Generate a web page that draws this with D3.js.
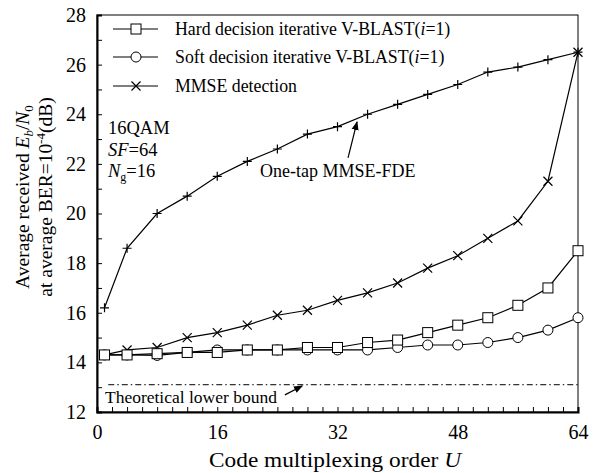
<!DOCTYPE html>
<html>
<head>
<meta charset="utf-8">
<script src="https://d3js.org/d3.v7.min.js"></script>
<style>
  body { margin: 0; background: #fff; }
  svg text { font-family: "Liberation Serif", "Times New Roman", Tinos, "DejaVu Serif", serif; fill: #000; }
</style>
</head>
<body>
<div id="chart"></div>
<script>
var width = 593,
  height = 473;

// code multiplexing order U
var orders = [1, 4, 8, 12, 16, 20, 24, 28, 32, 36, 40, 44, 48, 52, 56, 60, 64];
var hardVblast = [14.3, 14.3, 14.35, 14.4, 14.4, 14.5, 14.5, 14.6, 14.6, 14.8, 14.9, 15.2, 15.5, 15.8, 16.3, 17.0, 18.5];
var softVblast = [14.3, 14.3, 14.28, 14.4, 14.5, 14.5, 14.5, 14.5, 14.5, 14.5, 14.6, 14.7, 14.7, 14.8, 15.0, 15.3, 15.8];
var mmseDetection = [14.3, 14.5, 14.6, 15.0, 15.2, 15.5, 15.9, 16.1, 16.5, 16.8, 17.2, 17.8, 18.3, 19.0, 19.7, 21.3, 26.5];
var oneTapFde = [16.2, 18.6, 20.0, 20.7, 21.5, 22.1, 22.6, 23.2, 23.5, 24.0, 24.4, 24.8, 25.2, 25.7, 25.9, 26.2, 26.5];
var lowerBound = 13.1;

var xTicks = [0, 16, 32, 48, 64];
var yTicks = [12, 14, 16, 18, 20, 22, 24, 26, 28];

var serif = "'Liberation Serif', 'Times New Roman', Tinos, 'DejaVu Serif', serif";

var x = d3.scaleLinear().domain([0, 64]).range([97, 578]);
var y = d3.scaleLinear().domain([12, 28]).range([412, 15]);

var svg = d3.select("#chart").append("svg")
  .attr("width", width)
  .attr("height", height)
  .attr("font-family", serif);

// frame (top / right thin)
svg.append("rect")
  .attr("x", x(0)).attr("y", y(28))
  .attr("width", x(64) - x(0)).attr("height", y(12) - y(28))
  .attr("fill", "none").attr("stroke", "#000").attr("stroke-width", 1);

// inward minor ticks
var yMinor = svg.append("g")
  .attr("transform", "translate(" + x(0) + ",0)")
  .call(d3.axisRight(y).tickValues(d3.range(12, 28.01, 1)).tickSize(5).tickFormat(""));
var xMinor = svg.append("g")
  .attr("transform", "translate(0," + y(12) + ")")
  .call(d3.axisTop(x).tickValues(d3.range(0, 64.01, 2)).tickSize(5).tickFormat(""));
yMinor.select(".domain").attr("stroke-width", 2);
xMinor.select(".domain").attr("stroke-width", 2);

// tick labels
var yAxis = svg.append("g")
  .attr("transform", "translate(" + x(0) + ",0)")
  .call(d3.axisLeft(y).tickValues(yTicks).tickSize(0).tickPadding(11));
yAxis.select(".domain").remove();
yAxis.attr("font-family", serif).attr("font-size", 20);

var xAxis = svg.append("g")
  .attr("transform", "translate(0," + y(12) + ")")
  .call(d3.axisBottom(x).tickValues(xTicks).tickSize(0).tickPadding(13));
xAxis.select(".domain").remove();
xAxis.attr("font-family", serif).attr("font-size", 20);

// axis titles
var xt = svg.append("text")
  .attr("x", 335).attr("y", 467)
  .attr("text-anchor", "middle")
  .attr("font-size", 21)
  .attr("textLength", 252)
  .attr("lengthAdjust", "spacingAndGlyphs");
xt.append("tspan").text("Code multiplexing order ");
xt.append("tspan").attr("font-style", "italic").text("U");

var yt1 = svg.append("text")
  .attr("transform", "translate(29,197) rotate(-90)")
  .attr("text-anchor", "middle")
  .attr("font-size", 19.5);
yt1.append("tspan").text("Average received ");
yt1.append("tspan").attr("font-style", "italic").text("E");
yt1.append("tspan").attr("dy", 4).attr("font-size", 13).attr("font-style", "italic").text("b");
yt1.append("tspan").attr("dy", -4).text("/");
yt1.append("tspan").attr("font-style", "italic").text("N");
yt1.append("tspan").attr("dy", 4).attr("font-size", 13).text("0");

var yt2 = svg.append("text")
  .attr("transform", "translate(52,197) rotate(-90)")
  .attr("text-anchor", "middle")
  .attr("font-size", 19.5);
yt2.append("tspan").text("at average BER=10");
yt2.append("tspan").attr("dy", -7).attr("font-size", 13).text("-4");
yt2.append("tspan").attr("dy", 7).text("(dB)");

// lower bound
svg.append("line")
  .attr("x1", x(1.5)).attr("x2", x(64))
  .attr("y1", y(lowerBound)).attr("y2", y(lowerBound))
  .attr("stroke", "#000").attr("stroke-width", 1)
  .attr("stroke-dasharray", "6,3,1.5,3");

var line = d3.line()
  .x(function(d) { return x(d[0]); })
  .y(function(d) { return y(d[1]); });

function pairs(vals) {
  return orders.map(function(u, i) { return [u, vals[i]]; });
}

function drawMarker(g, kind, cx, cy) {
  if (kind === "square") {
    g.append("rect").attr("x", cx - 5).attr("y", cy - 5).attr("width", 10).attr("height", 10)
      .attr("fill", "#fff").attr("stroke", "#000").attr("stroke-width", 1);
  } else if (kind === "circle") {
    g.append("circle").attr("cx", cx).attr("cy", cy).attr("r", 5)
      .attr("fill", "#fff").attr("stroke", "#000").attr("stroke-width", 1);
  } else if (kind === "cross") {
    g.append("path").attr("d", "M" + (cx - 4.5) + "," + (cy - 4.5) + "L" + (cx + 4.5) + "," + (cy + 4.5) +
        "M" + (cx - 4.5) + "," + (cy + 4.5) + "L" + (cx + 4.5) + "," + (cy - 4.5))
      .attr("stroke", "#000").attr("stroke-width", 1.2).attr("fill", "none");
  } else if (kind === "plus") {
    g.append("path").attr("d", "M" + (cx - 4.5) + "," + cy + "L" + (cx + 4.5) + "," + cy +
        "M" + cx + "," + (cy - 4.5) + "L" + cx + "," + (cy + 4.5))
      .attr("stroke", "#000").attr("stroke-width", 1.2).attr("fill", "none");
  }
}

var series = [
  { vals: oneTapFde, marker: "plus" },
  { vals: mmseDetection, marker: "cross" },
  { vals: softVblast, marker: "circle" },
  { vals: hardVblast, marker: "square" }
];

series.forEach(function(s) {
  var g = svg.append("g");
  var pts = pairs(s.vals);
  g.append("path").datum(pts)
    .attr("d", line).attr("fill", "none").attr("stroke", "#000").attr("stroke-width", 1.2);
  pts.forEach(function(p) { drawMarker(g, s.marker, x(p[0]), y(p[1])); });
});

// legend
var legendItems = [
  { label: "Hard decision iterative V-BLAST(", tail: ")", marker: "square" },
  { label: "Soft decision iterative V-BLAST(", tail: ")", marker: "circle" },
  { label: "MMSE detection", tail: null, marker: "cross" }
];
var legendY = [29, 57, 86];
legendItems.forEach(function(d, i) {
  var g = svg.append("g");
  g.append("line").attr("x1", 113).attr("x2", 158).attr("y1", legendY[i]).attr("y2", legendY[i])
    .attr("stroke", "#000").attr("stroke-width", 1.2);
  drawMarker(g, d.marker, 136, legendY[i]);
  var t = g.append("text").attr("x", 175).attr("y", legendY[i] + 6).attr("font-size", 17.8);
  t.append("tspan").text(d.label);
  if (d.tail) {
    t.append("tspan").attr("font-style", "italic").text("i");
    t.append("tspan").text("=1" + d.tail);
  }
});

// parameters
var params = svg.append("g").attr("font-size", 18.5);
params.append("text").attr("x", 108).attr("y", 134).text("16QAM");
var sf = params.append("text").attr("x", 108).attr("y", 156);
sf.append("tspan").attr("font-style", "italic").text("SF");
sf.append("tspan").text("=64");
var ng = params.append("text").attr("x", 108).attr("y", 177);
ng.append("tspan").attr("font-style", "italic").text("N");
ng.append("tspan").attr("dy", 4).attr("font-size", 12).text("g");
ng.append("tspan").attr("dy", -4).text("=16");

// annotations
svg.append("defs").append("marker")
  .attr("id", "head").attr("viewBox", "0 0 10 10")
  .attr("refX", 9).attr("refY", 5)
  .attr("markerWidth", 9).attr("markerHeight", 9)
  .attr("markerUnits", "userSpaceOnUse")
  .attr("orient", "auto")
  .append("path").attr("d", "M0,1L10,5L0,9Z").attr("fill", "#000");

svg.append("line")
  .attr("x1", x(33.4)).attr("y1", y(22.24))
  .attr("x2", x(34.6)).attr("y2", y(23.69))
  .attr("stroke", "#000").attr("stroke-width", 1.2)
  .attr("marker-end", "url(#head)");
svg.append("text").attr("x", x(21.7)).attr("y", y(21.47))
  .attr("font-size", 18).text("One-tap MMSE-FDE");

svg.append("line")
  .attr("x1", x(25.0)).attr("y1", y(12.69))
  .attr("x2", x(27.3)).attr("y2", y(13.05))
  .attr("stroke", "#000").attr("stroke-width", 1.2)
  .attr("marker-end", "url(#head)");
svg.append("text").attr("x", x(1.06)).attr("y", y(12.38))
  .attr("font-size", 17.5).text("Theoretical lower bound");
</script>
</body>
</html>
